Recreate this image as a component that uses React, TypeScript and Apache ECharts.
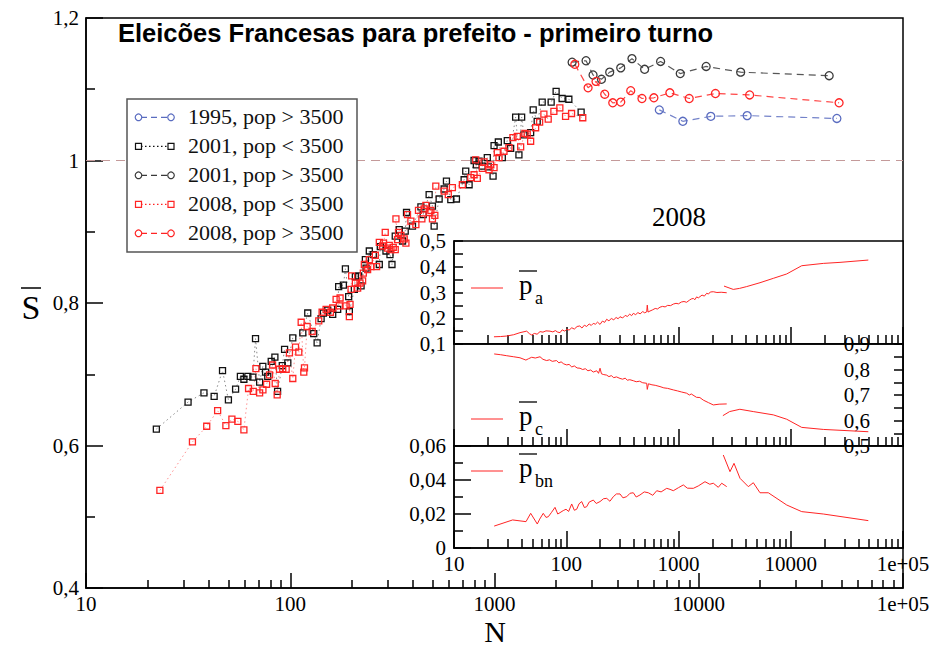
import { useEffect, useRef } from 'react';
import * as echarts from 'echarts';

// ---------------- data (N, S̄) ----------------
const s2001Small: [number, number][] = [
  [22.1,0.623],[31.6,0.661],[37.8,0.674],[42.4,0.669],[46.6,0.705],[49.8,0.664],[54.0,0.679],[57.0,0.697],[59.3,0.693],[62.0,0.697],[65.6,0.696],[67.6,0.750],[70.8,0.689],[73.4,0.711],[75.7,0.703],[77.6,0.697],[80.7,0.718],[84.1,0.724],[86.7,0.676],[91.4,0.712],[93.8,0.735],[97.3,0.716],[102.9,0.751],[115.2,0.758],[121.8,0.786],[130.3,0.757],[135.4,0.744],[141.6,0.778],[145.3,0.786],[152.6,0.790],[161.4,0.784],[170.7,0.791],[172.6,0.823],[182,0.825],[186.2,0.848],[193.2,0.809],[194.7,0.788],[206,0.819],[208.4,0.837],[216.3,0.838],[222.2,0.824],[233.2,0.861],[235,0.849],[243.8,0.873],[255,0.868],[272.9,0.854],[276,0.879],[294.2,0.873],[307.8,0.868],[314.8,0.854],[326.6,0.894],[341.7,0.903],[354.6,0.887],[365.5,0.901],[370.9,0.927],[396.7,0.908],[436.2,0.935],[447.6,0.924],[478.6,0.952],[496.8,0.936],[506.4,0.908],[535.8,0.946],[567,0.960],[581.7,0.971],[611,0.945],[651,0.946],[710,0.973],[723,0.985],[751,0.966],[794,1.000],[815,0.994],[840,0.999],[872,0.992],[922,1.004],[933,0.991],[984,0.978],[995,1.021],[1044,1.026],[1092,1.004],[1155,1.028],[1200,1.017],[1269,1.061],[1317,1.008],[1358,1.061],[1393,1.036],[1503,1.039],[1547,1.071],[1618,1.055],[1712,1.082],[1894,1.082],[2003,1.097],[2143,1.087],[2312,1.086],[2655,1.068]
];
const s2008Small: [number, number][] = [
  [23.0,0.537],[33.2,0.605],[39.0,0.627],[44.1,0.649],[48.4,0.628],[51.8,0.637],[55.4,0.634],[59.3,0.622],[62.5,0.680],[65.9,0.676],[67.9,0.708],[70.8,0.674],[73.5,0.678],[76.6,0.686],[79.2,0.699],[81.9,0.713],[84.4,0.687],[86.3,0.671],[88.6,0.707],[91.9,0.708],[95.5,0.707],[99.1,0.730],[102.9,0.694],[106.1,0.738],[110.1,0.731],[113.1,0.773],[116.5,0.703],[117.4,0.709],[121,0.767],[128,0.760],[137.9,0.775],[143.2,0.787],[149.8,0.791],[157.3,0.787],[161.4,0.793],[167.7,0.805],[174,0.796],[175.4,0.807],[187.6,0.796],[194.7,0.781],[196.2,0.798],[198.5,0.819],[199.8,0.838],[208.4,0.828],[213.8,0.821],[219.6,0.828],[226.1,0.831],[227.9,0.842],[230.5,0.854],[239.2,0.847],[243.8,0.861],[248.5,0.851],[260.9,0.867],[264.7,0.851],[272.9,0.885],[283.1,0.880],[286.3,0.884],[291.8,0.899],[299.5,0.877],[305.3,0.881],[311.2,0.875],[319.4,0.878],[326.6,0.875],[329.2,0.918],[335.1,0.889],[338.9,0.899],[348.2,0.895],[361.4,0.890],[368.4,0.884],[375.1,0.924],[389.7,0.915],[412.2,0.910],[424.4,0.930],[441,0.918],[452.6,0.932],[461.3,0.937],[478.7,0.927],[488,0.930],[496.8,0.918],[510.4,0.923],[516,0.964],[567,0.957],[594,0.952],[622,0.962],[696,0.966],[765,0.976],[794,0.980],[809,1.001],[824,0.975],[872,0.989],[889,0.998],[940,0.987],[958,0.994],[995,0.990],[1032,1.011],[1052,1.004],[1113,1.013],[1177,1.018],[1231,1.032],[1293,1.034],[1343,1.019],[1409,1.038],[1446,1.037],[1503,1.027],[1590,1.046],[1663,1.054],[1745,1.065],[1832,1.058],[1953,1.069],[2089,1.074],[2228,1.062],[2384,1.066],[2705,1.060]
];
const s1995Large: [number, number][] = [
  [6412,1.071],[8358,1.055],[11455,1.062],[17258,1.063],[47450,1.059]
];
const s2001Large: [number, number][] = [
  [2399,1.138],[2807,1.140],[3038,1.120],[3339,1.114],[3665,1.124],[4150,1.130],[4710,1.143],[5433,1.128],[6505,1.139],[8117,1.122],[10870,1.132],[16040,1.124],[43500,1.119]
];
const s2008Large: [number, number][] = [
  [2473,1.135],[2872,1.102],[3141,1.111],[3465,1.093],[3793,1.081],[4150,1.082],[4645,1.098],[5272,1.087],[6030,1.088],[7220,1.095],[8980,1.087],[12070,1.094],[17750,1.092],[48650,1.081]
];

// inset 2008: p_a, p_c, p_bn (below / above 3500)
const paSmall: [number, number][] = [
  [22.7,0.128],[26,0.129],[29.5,0.131],[34,0.136],[38.7,0.144],[44.4,0.150],[47,0.140],[49.2,0.135],[52,0.141],[55,0.138],[58.4,0.148],[62,0.146],[66,0.151],[71.6,0.150],[76,0.147],[80,0.152],[84,0.146],[88,0.144],[92,0.155],[97,0.150],[101,0.157],[106,0.154],[112,0.163],[118,0.158],[125,0.168],[132,0.170],[138,0.162],[145,0.173],[152,0.168],[160,0.178],[167,0.172],[174,0.180],[182,0.177],[190,0.185],[200,0.176],[210,0.189],[220,0.184],[229,0.196],[240,0.190],[252,0.199],[265,0.194],[278,0.203],[290,0.198],[301,0.206],[318,0.201],[335,0.211],[350,0.207],[368,0.216],[382,0.210],[396,0.219],[415,0.214],[435,0.222],[455,0.217],[480,0.226],[500,0.221],[521,0.225],[527,0.251],[535,0.224],[557,0.228],[590,0.233],[620,0.238],[650,0.236],[684,0.243],[720,0.246],[760,0.244],[800,0.250],[850,0.249],[899,0.255],[950,0.258],[1000,0.256],[1060,0.263],[1120,0.265],[1180,0.262],[1250,0.270],[1300,0.275],[1355,0.277],[1400,0.272],[1450,0.283],[1500,0.279],[1555,0.284],[1620,0.290],[1700,0.286],[1783,0.297],[1850,0.294],[1920,0.302],[2042,0.303],[2200,0.300],[2400,0.301],[2688,0.299]
];
const paLarge: [number, number][] = [
  [2543,0.325],[3076,0.312],[3500,0.316],[4052,0.323],[5322,0.338],[6993,0.355],[9203,0.372],[12520,0.404],[19500,0.413],[27470,0.417],[49100,0.426]
];
const pcSmall: [number, number][] = [
  [22.8,0.861],[26,0.858],[29.5,0.854],[34,0.850],[38.7,0.846],[43.7,0.837],[46,0.842],[49.2,0.848],[53,0.845],[58.4,0.850],[62,0.840],[66.9,0.835],[71,0.838],[75,0.832],[82,0.835],[86,0.826],[90,0.830],[95,0.822],[100.9,0.818],[106,0.820],[112,0.810],[118,0.814],[125,0.806],[132.6,0.805],[140,0.800],[148,0.803],[156,0.795],[165,0.798],[174,0.790],[187,0.795],[194,0.785],[200,0.805],[206,0.783],[216,0.780],[229,0.778],[240,0.772],[252,0.776],[265,0.768],[280,0.771],[301,0.765],[318,0.762],[335,0.766],[350,0.758],[368,0.760],[396,0.756],[420,0.752],[450,0.754],[480,0.748],[521,0.746],[527,0.722],[540,0.744],[580,0.740],[620,0.738],[684,0.733],[740,0.728],[800,0.726],[899,0.720],[980,0.716],[1060,0.712],[1182,0.707],[1250,0.700],[1300,0.704],[1445,0.691],[1550,0.690],[1662,0.680],[1850,0.670],[2042,0.661],[2300,0.664],[2688,0.665]
];
const pcLarge: [number, number][] = [
  [2485,0.619],[2855,0.635],[3520,0.644],[4635,0.635],[7000,0.622],[9200,0.605],[12520,0.573],[19500,0.565],[49100,0.556]
];
const pbnSmall: [number, number][] = [
  [22.8,0.0129],[33.3,0.0165],[43.8,0.0155],[48.2,0.0204],[55.2,0.0141],[58,0.0170],[62.4,0.0204],[66,0.0180],[69.2,0.0184],[74,0.0210],[79.4,0.0239],[84,0.0200],[88,0.0208],[94,0.0220],[99.5,0.0228],[105,0.0215],[111.8,0.0259],[118,0.0222],[123.9,0.0228],[130,0.0260],[137.3,0.0273],[145,0.0238],[152.1,0.0243],[160,0.0270],[174.2,0.0282],[185,0.0262],[199.9,0.0273],[215,0.0290],[229.4,0.0292],[245,0.0275],[262.6,0.0302],[280,0.0318],[301.2,0.0318],[320,0.0295],[345.6,0.0302],[370,0.0322],[395.7,0.0325],[420,0.0300],[453.9,0.0312],[495,0.0330],[538.3,0.0325],[590,0.0310],[639.5,0.0337],[700,0.0330],[785.2,0.0351],[840,0.0345],[899,0.0337],[1000,0.0355],[1104,0.0371],[1200,0.0352],[1355,0.0351],[1500,0.0365],[1722,0.0390],[1900,0.0375],[2042,0.0381],[2262,0.0357],[2426,0.0381],[2688,0.0361]
];
const pbnLarge: [number, number][] = [
  [2506,0.0547],[2876,0.0449],[3122,0.0498],[3531,0.0410],[4187,0.0361],[4640,0.0384],[5322,0.0325],[6310,0.0325],[9203,0.0253],[12520,0.0214],[19500,0.0200],[49100,0.0161]
];

const refLine: [number, number][] = [[10, 1], [100000, 1]];

// log-axis minor tick positions
const minorTicks = [20,30,40,50,60,70,80,90,200,300,400,500,600,700,800,900,2000,3000,4000,5000,6000,7000,8000,9000,20000,30000,40000,50000,60000,70000,80000,90000];

const legendLabels = ['1995, pop > 3500', '2001, pop < 3500', '2001, pop > 3500', '2008, pop < 3500', '2008, pop > 3500'];
const titleText = 'Eleicões Francesas para prefeito - primeiro turno';

const SERIF = 'Liberation Serif';
const SANS = 'Liberation Sans';
const RED = '#ff2424';
const BLUE = '#5a6cc0';
const GRAY = '#3a3a3a';

const rects = {
  main: { left: 86, top: 18, width: 817, height: 570 },
  top: { left: 454, top: 241, width: 449, height: 103 },
  mid: { left: 454, top: 344, width: 449, height: 102 },
  bot: { left: 454, top: 446, width: 449, height: 102 },
};

const comma = (d: number) => (v: number) =>
  '{s|' + (Math.abs(v) < 1e-9 ? '0' : Math.abs(v - 1) < 1e-9 ? '1' : v.toFixed(d).replace('.', ',')) + '}';
const logFmt = (v: number) => '{s|' + (v >= 99999 ? '1e+05' : String(Math.round(v))) + '}';

const richSerif = { s: { fontFamily: SERIF, fontSize: 21, color: '#000', lineHeight: 18 } };
const labelStyle = { color: '#000', fontFamily: SERIF, fontSize: 21, lineHeight: 18, rich: richSerif };

function majorX(gridIndex: number, showLabels: boolean, tickLen: number, margin: number) {
  return {
    type: 'log', logBase: 10, gridIndex, min: 10, max: 100000,
    axisLine: { show: true, lineStyle: { color: '#000', width: 1.5 } },
    splitLine: { show: false },
    axisTick: { show: true, inside: true, length: tickLen, lineStyle: { color: '#000', width: 1.5 } },
    axisLabel: { show: showLabels, ...labelStyle, margin, formatter: logFmt, showMinLabel: true, showMaxLabel: true },
  };
}
function minorX(gridIndex: number, tickLen: number) {
  return {
    type: 'log', logBase: 10, gridIndex, min: 10, max: 100000,
    axisLine: { show: false },
    splitLine: { show: false },
    axisLabel: { show: false },
    axisTick: { show: true, inside: true, length: tickLen, customValues: minorTicks, lineStyle: { color: '#000', width: 1.5 } },
  };
}
function yAx(gridIndex: number, min: number, max: number, interval: number, dec: number, tickLen: number, extra: any = {}) {
  return {
    type: 'value', gridIndex, min, max, interval,
    axisLine: { show: true, lineStyle: { color: '#000', width: 1.5 } },
    splitLine: { show: false },
    minorSplitLine: { show: false },
    axisTick: { show: true, inside: true, length: tickLen, lineStyle: { color: '#000', width: 1.5 } },
    minorTick: { show: true, splitNumber: 2, length: 9, lineStyle: { color: '#000', width: 1.5 } },
    axisLabel: { ...labelStyle, margin: 8, formatter: comma(dec), showMinLabel: true, showMaxLabel: true },
    ...extra,
  };
}

function squareSeries(name: string, data: [number, number][], color: string, lineColor: string) {
  return {
    name, type: 'line', xAxisIndex: 0, yAxisIndex: 0, data,
    symbol: 'rect', symbolSize: 6, showSymbol: true,
    itemStyle: { color: 'rgba(255,255,255,0)', borderColor: color, borderWidth: 1.3 },
    lineStyle: { color: lineColor, width: 1, type: [1.5, 3] },
    emphasis: { disabled: true }, z: 3,
  };
}
function circleSeries(name: string, data: [number, number][], color: string) {
  return {
    name, type: 'line', xAxisIndex: 0, yAxisIndex: 0, data,
    symbol: 'circle', symbolSize: 8, showSymbol: true,
    itemStyle: { color: 'rgba(255,255,255,0)', borderColor: color, borderWidth: 1.3 },
    lineStyle: { color, width: 1.2, type: [7, 5], opacity: 0.85 },
    emphasis: { disabled: true }, z: 4,
  };
}
function insetSeries(name: string, data: [number, number][], idx: number) {
  return {
    name, type: 'line', xAxisIndex: idx, yAxisIndex: idx, data,
    symbol: 'none', showSymbol: false,
    lineStyle: { color: RED, width: 1 },
    emphasis: { disabled: true }, z: 3,
  };
}

function txt(text: string, x: number, y: number, size: number, opts: any = {}) {
  return {
    type: 'text', silent: true, z: 100,
    style: {
      text, x, y, fill: '#000', fontFamily: SERIF, fontSize: size,
      align: opts.align || 'left', verticalAlign: 'middle',
      textAlign: opts.align || 'left', textVerticalAlign: 'middle',
      fontWeight: 'normal', ...(opts.style || {}),
    },
  };
}
function ln(x1: number, y1: number, x2: number, y2: number, stroke: string, width = 1, dash?: number[]) {
  return {
    type: 'line', silent: true, z: 100,
    shape: { x1, y1, x2, y2 },
    style: { stroke, lineWidth: width, lineDash: dash },
  };
}

function legendGraphics() {
  const els: any[] = [];
  els.push({ type: 'rect', silent: true, z: 99, shape: { x: 127, y: 99, width: 230, height: 153 }, style: { fill: '#fff', stroke: '#555', lineWidth: 1.5 } });
  const specs = [
    { color: BLUE, sym: 'circle', dash: [6, 4] },
    { color: '#111', sym: 'rect', dash: [1.5, 2.5] },
    { color: GRAY, sym: 'circle', dash: [6, 4] },
    { color: RED, sym: 'rect', dash: [1.5, 2.5] },
    { color: RED, sym: 'circle', dash: [6, 4] },
  ];
  specs.forEach((s, i) => {
    const y = 117.3 + i * 29;
    els.push(ln(141, y, 168, y, s.color, 1.2, s.dash));
    [138.5, 171].forEach((cx) => {
      if (s.sym === 'circle') {
        els.push({ type: 'circle', silent: true, z: 101, shape: { cx, cy: y, r: 3.3 }, style: { fill: '#fff', stroke: s.color, lineWidth: 1.2 } });
      } else {
        els.push({ type: 'rect', silent: true, z: 101, shape: { x: cx - 3, y: y - 3, width: 6, height: 6 }, style: { fill: '#fff', stroke: s.color, lineWidth: 1.2 } });
      }
    });
    els.push(txt(legendLabels[i], 188, y - 1, 22, { style: { fill: '#111' } }));
  });
  return els;
}

function insetLegend(lineY: number, sub: string) {
  return [
    ln(471, lineY, 503, lineY, RED, 1),
    ln(519, lineY - 17, 537, lineY - 17, '#000', 1.3),
    txt('p', 519, lineY - 3, 27),
    txt(sub, 535, lineY + 10, 18),
  ];
}

export default function App() {
  const ref = useRef<HTMLDivElement>(null);
  useEffect(() => {
    const chart = echarts.init(ref.current!, null, { renderer: 'svg' });
    const option: any = {
      animation: false,
      backgroundColor: '#fff',
      textStyle: { fontFamily: SERIF },
      grid: [
        { ...rects.main, show: true, borderColor: '#000', borderWidth: 1.5, backgroundColor: 'rgba(0,0,0,0)' },
        { ...rects.top, show: true, borderColor: '#000', borderWidth: 1.5, backgroundColor: '#fff' },
        { ...rects.mid, show: true, borderColor: '#000', borderWidth: 1.5, backgroundColor: '#fff' },
        { ...rects.bot, show: true, borderColor: '#000', borderWidth: 1.5, backgroundColor: '#fff' },
        { ...rects.main, show: false },
        { ...rects.top, show: false },
        { ...rects.mid, show: false },
        { ...rects.bot, show: false },
      ],
      xAxis: [
        majorX(0, true, 15, 7),
        majorX(1, false, 17, 7),
        majorX(2, false, 17, 7),
        majorX(3, true, 17, 7),
        minorX(4, 8),
        minorX(5, 9),
        minorX(6, 9),
        minorX(7, 9),
      ],
      yAxis: [
        yAx(0, 0.4, 1.2, 0.2, 1, 17, { axisLabel: { ...labelStyle, margin: 7, formatter: comma(1), showMinLabel: true, showMaxLabel: true } }),
        yAx(1, 0.1, 0.5, 0.1, 1, 9),
        yAx(2, 0.5, 0.9, 0.1, 1, 9, { position: 'right', axisLabel: { inside: true, ...labelStyle, margin: 33, formatter: comma(1), showMinLabel: true, showMaxLabel: true } }),
        yAx(3, 0, 0.06, 0.02, 2, 17),
        { type: 'value', gridIndex: 4, min: 0, max: 1, show: false },
        { type: 'value', gridIndex: 5, min: 0, max: 1, show: false },
        { type: 'value', gridIndex: 6, min: 0, max: 1, show: false },
        { type: 'value', gridIndex: 7, min: 0, max: 1, show: false },
      ],
      series: [
        {
          name: 'S = 1', type: 'line', xAxisIndex: 0, yAxisIndex: 0, data: refLine,
          symbol: 'none', lineStyle: { color: '#c49a9a', width: 1.2, type: [9, 6] }, emphasis: { disabled: true }, z: 2,
        },
        squareSeries(legendLabels[1], s2001Small, '#111', '#8a8a8a'),
        squareSeries(legendLabels[3], s2008Small, RED, '#ff9090'),
        circleSeries(legendLabels[0], s1995Large, BLUE),
        circleSeries(legendLabels[2], s2001Large, GRAY),
        circleSeries(legendLabels[4], s2008Large, RED),
        insetSeries('pa < 3500', paSmall, 1),
        insetSeries('pa > 3500', paLarge, 1),
        insetSeries('pc < 3500', pcSmall, 2),
        insetSeries('pc > 3500', pcLarge, 2),
        insetSeries('pbn < 3500', pbnSmall, 3),
        insetSeries('pbn > 3500', pbnLarge, 3),
      ],
      graphic: [
        txt(titleText, 118, 32.5, 25.5, { style: { fontFamily: SANS, fontWeight: 'bold' } }),
        ...legendGraphics(),
        txt('2008', 679, 217, 27, { align: 'center' }),
        ...insetLegend(288, 'a'),
        ...insetLegend(419, 'c'),
        ...insetLegend(471, 'bn'),
        txt('N', 495, 631, 30, { align: 'center' }),
        txt('S', 31, 307, 34, { align: 'center' }),
        ln(21, 288, 41, 288, '#000', 1.5),
      ],
    };
    chart.setOption(option);
    return () => chart.dispose();
  }, []);
  return <div ref={ref} style={{ position: 'fixed', left: 0, top: 0, width: 938, height: 647 }} />;
}
